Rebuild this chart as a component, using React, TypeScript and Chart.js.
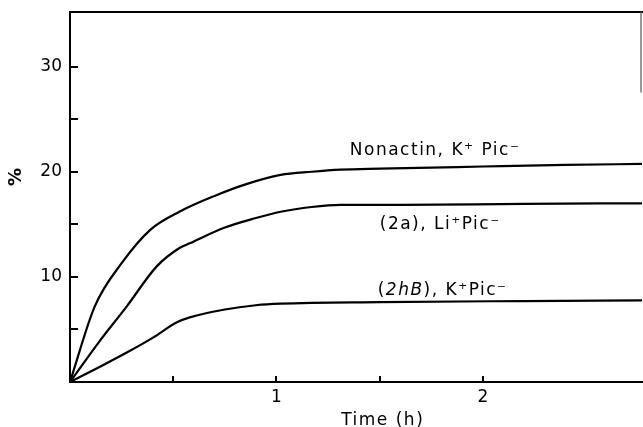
import React, { useEffect, useRef } from "react";
import { Chart, registerables } from "chart.js";

Chart.register(...registerables);

// Time (h)
const nonactinT = [0, 0.12, 0.25, 0.39, 0.53, 0.7, 0.85, 1.02, 1.17, 1.31, 1.5, 2.0, 2.4, 2.77];
const nonactinV = [0, 7.2, 11.3, 14.5, 16.2, 17.7, 18.8, 19.7, 20.0, 20.2, 20.3, 20.5, 20.65, 20.75];

const li2aT = [0, 0.14, 0.275, 0.42, 0.53, 0.58, 0.75, 0.9, 1.02, 1.17, 1.31, 1.6, 2.2, 2.77];
const li2aV = [0, 3.8, 7.2, 11.0, 12.75, 13.2, 14.7, 15.6, 16.2, 16.65, 16.85, 16.85, 16.95, 17.0];

const k2hBT = [0, 0.15, 0.275, 0.4, 0.52, 0.58, 0.75, 0.9, 1.02, 1.5, 2.2, 2.77];
const k2hBV = [0, 1.5, 2.8, 4.2, 5.7, 6.15, 6.9, 7.3, 7.45, 7.6, 7.7, 7.76];

const xTickMarks = [0.5, 1, 1.5, 2];
const xTickLabels = [1, 2];
const yTickMarks = [5, 10, 15, 20, 25, 30];
const yTickLabels = [10, 20, 30];

const X_MAX = 2.77;
const Y_MAX = 35.2;

const FONT = "'DejaVu Sans', 'Noto Sans', sans-serif";

const toPoints = (t: number[], v: number[]) => t.map((x, i) => ({ x, y: v[i] }));

const decorPlugin = {
  id: "decor",
  afterDraw(chart: any) {
    const { ctx, chartArea, scales } = chart;
    const { left, right, top, bottom } = chartArea;
    const xs = scales.x;
    const ys = scales.y;
    ctx.save();
    ctx.strokeStyle = "#000";
    ctx.lineWidth = 2;
    ctx.lineCap = "square";
    // frame
    ctx.beginPath();
    ctx.moveTo(right, top);
    ctx.lineTo(left, top);
    ctx.lineTo(left, bottom);
    ctx.lineTo(right, bottom);
    ctx.stroke();
    ctx.lineWidth = 1.2;
    ctx.strokeStyle = "#555";
    ctx.beginPath();
    ctx.moveTo(right - 1, top);
    ctx.lineTo(right - 1, ys.getPixelForValue(27.6));
    ctx.stroke();
    // inward tick marks
    ctx.strokeStyle = "#000";
    ctx.lineWidth = 2;
    ctx.lineCap = "butt";
    ctx.beginPath();
    for (const v of yTickMarks) {
      const p = Math.round(ys.getPixelForValue(v));
      ctx.moveTo(left, p);
      ctx.lineTo(left + 8, p);
    }
    for (const v of xTickMarks) {
      const p = Math.round(xs.getPixelForValue(v));
      ctx.moveTo(p, bottom);
      ctx.lineTo(p, bottom - 6);
    }
    ctx.stroke();

    ctx.fillStyle = "#000";
    // y title
    ctx.save();
    ctx.font = `bold 18px ${FONT}`;
    ctx.translate(16, ys.getPixelForValue(19.5));
    ctx.rotate(-Math.PI / 2);
    ctx.textAlign = "center";
    ctx.textBaseline = "middle";
    ctx.fillText("%", 0, 0);
    ctx.restore();

    // x title
    ctx.font = `17px ${FONT}`;
    (ctx as any).letterSpacing = "1.5px";
    ctx.textAlign = "center";
    ctx.textBaseline = "alphabetic";
    ctx.fillText("Time (h)", xs.getPixelForValue(1.5) + 3, 425);

    // annotations
    ctx.textAlign = "left";
    const drawRuns = (runs: [string, boolean][], xv: number, yv: number) => {
      let px = xs.getPixelForValue(xv);
      const py = ys.getPixelForValue(yv);
      for (const [txt, ital] of runs) {
        ctx.font = `${ital ? "italic " : ""}17px ${FONT}`;
        ctx.fillText(txt, px, py);
        px += ctx.measureText(txt).width;
      }
    };
    drawRuns([["Nonactin, K⁺ Pic⁻", false]], 1.355, 21.6);
    drawRuns([["(2a), Li⁺Pic⁻", false]], 1.5, 14.6);
    drawRuns([["(", false], ["2hB", true], ["), K⁺Pic⁻", false]], 1.49, 8.3);
    ctx.restore();
  },
};

export default function App() {
  const ref = useRef<HTMLCanvasElement | null>(null);
  useEffect(() => {
    if (!ref.current) return;
    const lineStyle = {
      borderColor: "#000",
      borderWidth: 2.2,
      pointRadius: 0,
      fill: false,
      cubicInterpolationMode: "monotone" as const,
    };
    const chart = new Chart(ref.current, {
      type: "line",
      data: {
        datasets: [
          { label: "Nonactin, K⁺ Pic⁻", data: toPoints(nonactinT, nonactinV), ...lineStyle },
          { label: "(2a), Li⁺Pic⁻", data: toPoints(li2aT, li2aV), ...lineStyle },
          { label: "(2hB), K⁺Pic⁻", data: toPoints(k2hBT, k2hBV), ...lineStyle },
        ],
      },
      options: {
        animation: false,
        responsive: true,
        maintainAspectRatio: false,
        layout: { padding: { top: 12, right: 1, left: 0, bottom: 0 } },
        plugins: { legend: { display: false }, tooltip: { enabled: false }, title: { display: false } },
        scales: {
          x: {
            type: "linear",
            min: 0,
            max: X_MAX,
            grid: { display: false, drawTicks: false },
            border: { display: false },
            afterBuildTicks: (s: any) => {
              s.ticks = xTickLabels.map((v) => ({ value: v }));
            },
            afterFit: (s: any) => {
              s.height = 45;
              s.paddingLeft = 0;
              s.paddingRight = 0;
            },
            ticks: {
              autoSkip: false,
              maxRotation: 0,
              padding: 5,
              color: "#000",
              font: { family: FONT, size: 17 },
              callback: (v: any) => String(v),
            },
          },
          y: {
            type: "linear",
            min: 0,
            max: Y_MAX,
            grid: { display: false, drawTicks: false },
            border: { display: false },
            afterBuildTicks: (s: any) => {
              s.ticks = yTickLabels.map((v) => ({ value: v }));
            },
            afterFit: (s: any) => {
              s.width = 70;
              s.paddingTop = 0;
              s.paddingBottom = 0;
            },
            ticks: {
              autoSkip: false,
              padding: 8,
              color: "#000",
              font: { family: FONT, size: 17 },
              callback: (v: any) => String(v),
            },
          },
        },
      },
      plugins: [decorPlugin],
    });
    return () => chart.destroy();
  }, []);
  return (
    <div style={{ position: "absolute", left: 0, top: 0, width: 643, height: 427, background: "#fff" }}>
      <canvas ref={ref} />
    </div>
  );
}
